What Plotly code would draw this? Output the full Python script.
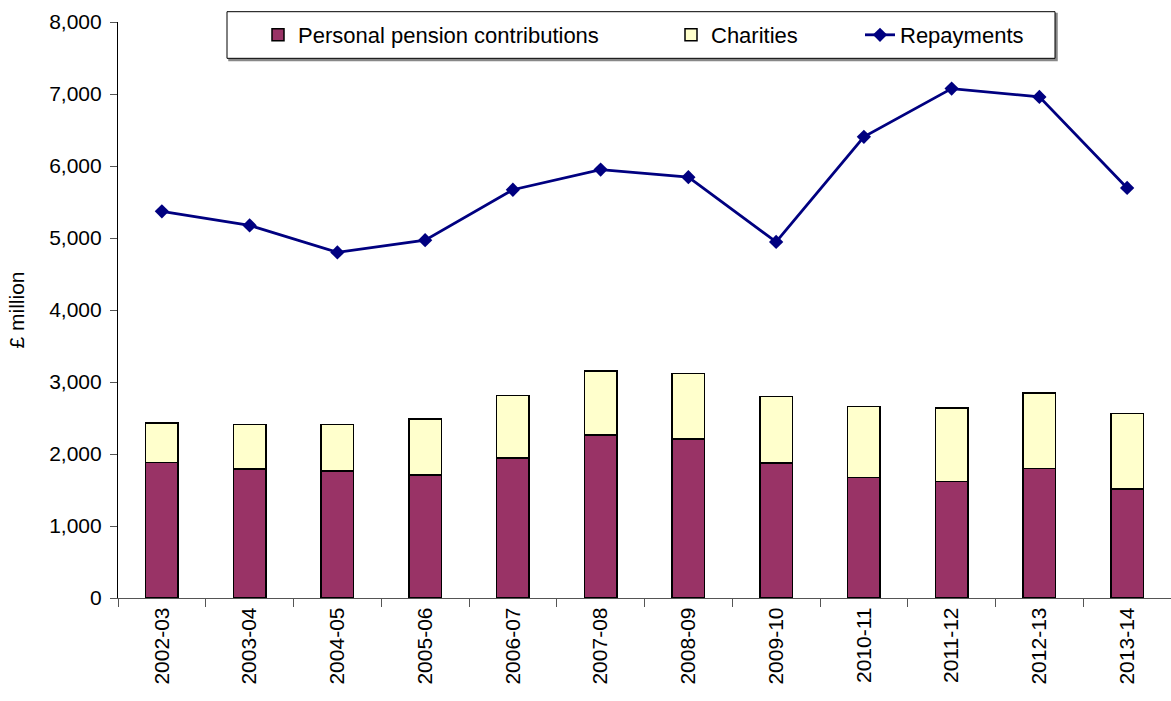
import plotly.graph_objects as go

years = ["2002-03", "2003-04", "2004-05", "2005-06", "2006-07", "2007-08",
         "2008-09", "2009-10", "2010-11", "2011-12", "2012-13", "2013-14"]
pension = [1880, 1790, 1765, 1705, 1945, 2265, 2205, 1875, 1675, 1615, 1800, 1515]
charities = [550, 620, 645, 780, 865, 885, 910, 925, 985, 1025, 1050, 1050]
repayments = [5370, 5175, 4800, 4970, 5670, 5950, 5845, 4945, 6405, 7075, 6960, 5695]

FONT = "Liberation Sans, Arial, sans-serif"
FS = 21
LFS = 22

fig = go.Figure()
fig.add_trace(go.Bar(
    x=years, y=pension, name="Personal pension contributions",
    marker=dict(color="#993366", line=dict(color="black", width=1.5)),
    width=0.37, legend="legend4"))
fig.add_trace(go.Bar(
    x=years, y=charities, name="Charities",
    marker=dict(color="#FFFFCC", line=dict(color="black", width=1.5)),
    width=0.37, legend="legend2"))
fig.add_trace(go.Scatter(
    x=years, y=repayments, name="Repayments", mode="lines+markers",
    line=dict(color="#000080", width=2.8),
    marker=dict(symbol="diamond", size=11, color="#000080"),
    legend="legend3"))

def px_x(p):
    return (p - 118) / 1053.0

def px_y(p):
    return 1 - (p - 22) / 575.7

leg_common = dict(orientation="h", yanchor="middle", y=px_y(35), xanchor="left",
                  bgcolor="rgba(0,0,0,0)", borderwidth=0,
                  font=dict(family=FONT, size=LFS, color="black"))

fig.update_layout(
    barmode="stack",
    width=1171, height=701,
    margin=dict(l=118, r=0, t=22, b=103, autoexpand=False),
    paper_bgcolor="white", plot_bgcolor="rgba(0,0,0,0)",
    font=dict(family=FONT, size=FS, color="black"),
    showlegend=True,
    legend4=dict(x=px_x(258), **leg_common),
    legend2=dict(x=px_x(671), **leg_common),
    legend3=dict(x=px_x(860), **leg_common),
    xaxis=dict(type="category", range=[-0.5, 11.5], tickangle=-90,
               showline=True, linecolor="#555555", linewidth=1.2,
               ticks="outside", ticklen=8, tickcolor="#555555",
               tickson="boundaries", showgrid=False,
               tickfont=dict(family=FONT, size=FS, color="black")),
    yaxis=dict(range=[0, 8000], dtick=1000, tickformat=",d",
               showline=True, linecolor="black", linewidth=1.2,
               ticks="outside", ticklen=7, tickcolor="#555555",
               ticklabelstandoff=4,
               showgrid=False, zeroline=False,
               title=dict(text="£ million", standoff=18,
                          font=dict(family=FONT, size=FS, color="black")),
               tickfont=dict(family=FONT, size=FS, color="black")),
    shapes=[
        dict(type="rect", xref="paper", yref="paper",
             x0=px_x(229), x1=px_x(1057), y0=px_y(60.5), y1=px_y(13.5),
             line=dict(color="#888888", width=1.5), fillcolor="#888888", layer="below"),
        dict(type="rect", xref="paper", yref="paper",
             x0=px_x(227), x1=px_x(1055), y0=px_y(58.3), y1=px_y(11.7),
             line=dict(color="black", width=1), fillcolor="white", layer="below"),
    ],
)

fig.write_html("out.html", config={"displayModeBar": False},
               post_script="document.body.style.margin='0';document.body.style.padding='0';")
